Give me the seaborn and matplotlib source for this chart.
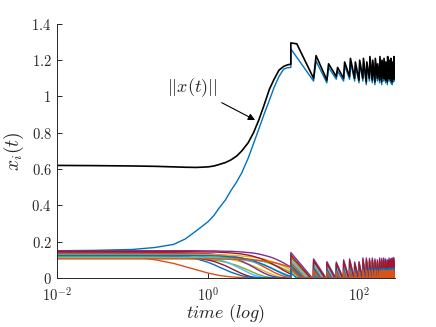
import matplotlib
matplotlib.use("Agg")
import matplotlib.pyplot as plt
from matplotlib.ticker import FixedLocator, FixedFormatter, NullLocator
import seaborn as sns
import pandas as pd

# ---- data ----
# common time grid before the first kick (t = 12.5)
t_pre = [0.01, 0.03, 0.1, 0.2, 0.35, 0.5, 0.7, 1.0, 1.2, 1.4, 1.7, 2.0,
         2.4, 2.8, 3.4, 4.0, 4.7, 5.5, 6.5, 7.5, 8.7, 10, 11.2, 12.5]

# norm ||x(t)|| and the growing component x_1 before the kick
norm_pre = [0.620, 0.619, 0.617, 0.615, 0.612, 0.610, 0.609, 0.612, 0.617, 0.625, 0.636, 0.650,
            0.672, 0.700, 0.745, 0.800, 0.870, 0.950, 1.040, 1.095, 1.145, 1.165, 1.174, 1.178]
x1_pre = [0.150, 0.152, 0.157, 0.168, 0.185, 0.215, 0.260, 0.310, 0.345, 0.385, 0.430, 0.480,
          0.530, 0.580, 0.660, 0.740, 0.820, 0.900, 0.980, 1.050, 1.110, 1.150, 1.158, 1.160]

# the decaying components x_2 .. x_16 on the same grid
comp_pre = [
    [.128, .126, .117, .100, .080, .062, .045, .027, .020, .014, .009, .006, .004, .002, .001, 0, 0, 0, 0, 0, 0, 0, 0, 0],
    [.118, .118, .118, .118, .118, .117, .116, .114, .112, .110, .106, .102, .095, .088, .077, .065, .052, .039, .025, .015, .007, .003, .001, 0],
    [.140, .140, .140, .140, .139, .138, .136, .133, .130, .126, .120, .113, .103, .092, .075, .059, .042, .027, .014, .007, .002, .001, 0, 0],
    [.110, .110, .110, .110, .109, .108, .106, .101, .098, .094, .087, .079, .069, .058, .043, .030, .018, .009, .004, .001, 0, 0, 0, 0],
    [.130, .130, .130, .129, .128, .126, .122, .114, .108, .101, .090, .078, .062, .048, .030, .017, .008, .003, .001, 0, 0, 0, 0, 0],
    [.122, .122, .122, .121, .119, .116, .110, .099, .091, .081, .067, .053, .037, .024, .011, .004, .001, 0, 0, 0, 0, 0, 0, 0],
    [.140, .140, .138, .134, .127, .119, .106, .086, .073, .060, .045, .032, .021, .012, .006, .003, .001, 0, 0, 0, 0, 0, 0, 0],
    [.135, .135, .135, .135, .135, .134, .133, .132, .130, .128, .125, .122, .116, .110, .100, .089, .076, .061, .045, .031, .019, .010, .005, .002],
    [.128, .128, .128, .128, .128, .128, .128, .127, .127, .126, .125, .125, .123, .121, .118, .115, .110, .104, .095, .087, .076, .064, .054, .043],
    [.150, .150, .150, .150, .150, .150, .150, .149, .149, .148, .147, .147, .145, .143, .140, .137, .132, .125, .117, .108, .096, .083, .071, .060],
    [.115, .115, .115, .115, .115, .115, .115, .114, .114, .113, .112, .111, .110, .108, .105, .101, .096, .090, .081, .072, .062, .050, .041, .032],
    [.112, .112, .112, .112, .112, .112, .112, .110, .110, .109, .107, .105, .103, .100, .094, .088, .081, .071, .060, .048, .036, .025, .017, .011],
    [.145, .145, .145, .145, .145, .145, .144, .143, .143, .142, .140, .138, .135, .132, .126, .119, .110, .100, .086, .072, .057, .042, .031, .021],
    [.125, .125, .125, .125, .125, .125, .124, .123, .122, .121, .119, .116, .113, .109, .102, .094, .084, .073, .059, .046, .033, .021, .013, .008],
    [.105, .105, .105, .105, .105, .105, .105, .105, .105, .104, .104, .103, .103, .102, .100, .099, .096, .093, .089, .084, .078, .071, .064, .057],
]

# kick times and the end of the run
kicks = [12.5, 25, 37.5, 50, 62.5, 75, 87.5, 100, 112.5, 125, 137.5, 150,
         162.5, 175, 187.5, 200, 212.5, 225, 237.5, 250, 262.5, 275, 287.5]
t_end = 300

# first kick: jump and short plateau of the norm
norm_kick1_t = [12.5, 12.5, 15.0]
norm_kick1 = [1.178, 1.295, 1.290]
x1_kick1_t = [12.5, 12.5]
x1_kick1 = [1.160, 1.262]

# later kicks (2..23): value just before the kick and peak right after it
norm_trough = [1.100, 1.090, 1.110, 1.100, 1.110, 1.100, 1.090, 1.100, 1.080, 1.100, 1.090,
               1.080, 1.100, 1.090, 1.080, 1.100, 1.090, 1.080, 1.100, 1.090, 1.080, 1.095]
norm_peak = [1.225, 1.180, 1.160, 1.190, 1.210, 1.190, 1.200, 1.210, 1.190, 1.220, 1.200,
             1.210, 1.180, 1.220, 1.200, 1.210, 1.190, 1.220, 1.200, 1.210, 1.190, 1.220]
norm_last = 1.100
x1_trough = [1.085, 1.075, 1.095, 1.085, 1.095, 1.085, 1.075, 1.085, 1.065, 1.085, 1.075,
             1.065, 1.085, 1.075, 1.065, 1.085, 1.075, 1.065, 1.085, 1.075, 1.065, 1.080]
x1_peak = [1.195, 1.160, 1.140, 1.170, 1.190, 1.170, 1.180, 1.190, 1.170, 1.200, 1.180,
           1.190, 1.160, 1.200, 1.180, 1.190, 1.170, 1.200, 1.180, 1.190, 1.170, 1.200]
x1_last = 1.085
rise = 2.0

# small components after each kick: top of the fan per kick, and each component's share
spike_top = [.140, .105, .090, .088, .100, .105, .088, .090, .110, .110, .108, .110,
             .105, .100, .110, .108, .110, .105, .100, .110, .105, .110, .112]
comp_share = [.35, .55, .45, .30, .65, .80, .20, .60, .75, 1.0, .85, .70, .90, .50, .40]

matlab = ["#0072BD", "#D95319", "#EDB120", "#7E2F8E", "#77AC30", "#4DBEEE", "#A2142F"]

# ---- build long table ----
rows = []
names = ["x1"] + ["x%d" % (i + 2) for i in range(len(comp_pre))]

for t, v in zip(t_pre + x1_kick1_t, x1_pre + x1_kick1):
    rows.append(("x1", t, v))
for k in range(1, len(kicks)):
    rows.append(("x1", kicks[k], x1_trough[k - 1]))
    rows.append(("x1", kicks[k] + rise, x1_peak[k - 1]))
rows.append(("x1", t_end, x1_last))

for j, vals in enumerate(comp_pre):
    name = names[j + 1]
    for t, v in zip(t_pre, vals):
        rows.append((name, t, v))
    for k, tk in enumerate(kicks):
        nxt = kicks[k + 1] if k + 1 < len(kicks) else t_end
        rows.append((name, tk, spike_top[k] * comp_share[j]))
        rows.append((name, tk + 0.92 * (nxt - tk) * comp_share[j], 0.0))
        rows.append((name, nxt, 0.0))

df = pd.DataFrame(rows, columns=["comp", "t", "x"])

norm_t = t_pre + norm_kick1_t
norm_v = norm_pre + norm_kick1
for k in range(1, len(kicks)):
    norm_t += [kicks[k], kicks[k] + rise]
    norm_v += [norm_trough[k - 1], norm_peak[k - 1]]
norm_t.append(t_end)
norm_v.append(norm_last)
norm_df = pd.DataFrame({"t": norm_t, "x": norm_v})

# ---- plot ----
sns.set_theme(style="ticks")
plt.rcParams["mathtext.fontset"] = "cm"
plt.rcParams["font.family"] = ["DejaVu Serif"]

fig = plt.figure(figsize=(4.36, 3.27), dpi=100)
ax = fig.add_axes([0.131, 0.150, 0.775, 0.777])

palette = [matlab[i % 7] for i in range(len(names))]
sns.lineplot(data=df, x="t", y="x", hue="comp", hue_order=names, palette=palette,
             estimator=None, sort=False, legend=False, linewidth=1.0, ax=ax)
sns.lineplot(data=norm_df, x="t", y="x", color="black", estimator=None, sort=False,
             linewidth=1.2, ax=ax)

ax.set_xscale("log")
ax.set_xlim(0.01, 300)
ax.set_ylim(0, 1.4)

ax.xaxis.set_major_locator(FixedLocator([1e-2, 1e0, 1e2]))
ax.xaxis.set_major_formatter(FixedFormatter([r"$10^{-2}$", r"$10^{0}$", r"$10^{2}$"]))
ax.xaxis.set_minor_locator(NullLocator())
yt = [0, 0.2, 0.4, 0.6, 0.8, 1.0, 1.2, 1.4]
ax.yaxis.set_major_locator(FixedLocator(yt))
ax.yaxis.set_major_formatter(FixedFormatter(
    [r"$0$", r"$0.2$", r"$0.4$", r"$0.6$", r"$0.8$", r"$1$", r"$1.2$", r"$1.4$"]))

sns.despine(ax=ax)
for s in ["left", "bottom"]:
    ax.spines[s].set_color("#262626")
    ax.spines[s].set_linewidth(0.7)
ax.tick_params(direction="in", length=3.5, width=0.7, colors="#262626", labelsize=10.5)
ax.tick_params(axis="x", pad=5.5)
ax.tick_params(axis="y", pad=4)

ax.set_xlabel(r"$time\ (log)$", fontsize=13, color="#262626", labelpad=-1)
ax.set_ylabel(r"$x_i(t)$", fontsize=14, color="#262626", labelpad=4)

ax.annotate(r"$||x(t)||$", xy=(4.2, 0.87), xytext=(0.62, 1.05),
            ha="center", va="center", fontsize=13, color="#262626",
            arrowprops=dict(arrowstyle="-|>", color="black", lw=0.8,
                            mutation_scale=10, shrinkA=1, shrinkB=0))

fig.savefig("out.png", dpi=100)
